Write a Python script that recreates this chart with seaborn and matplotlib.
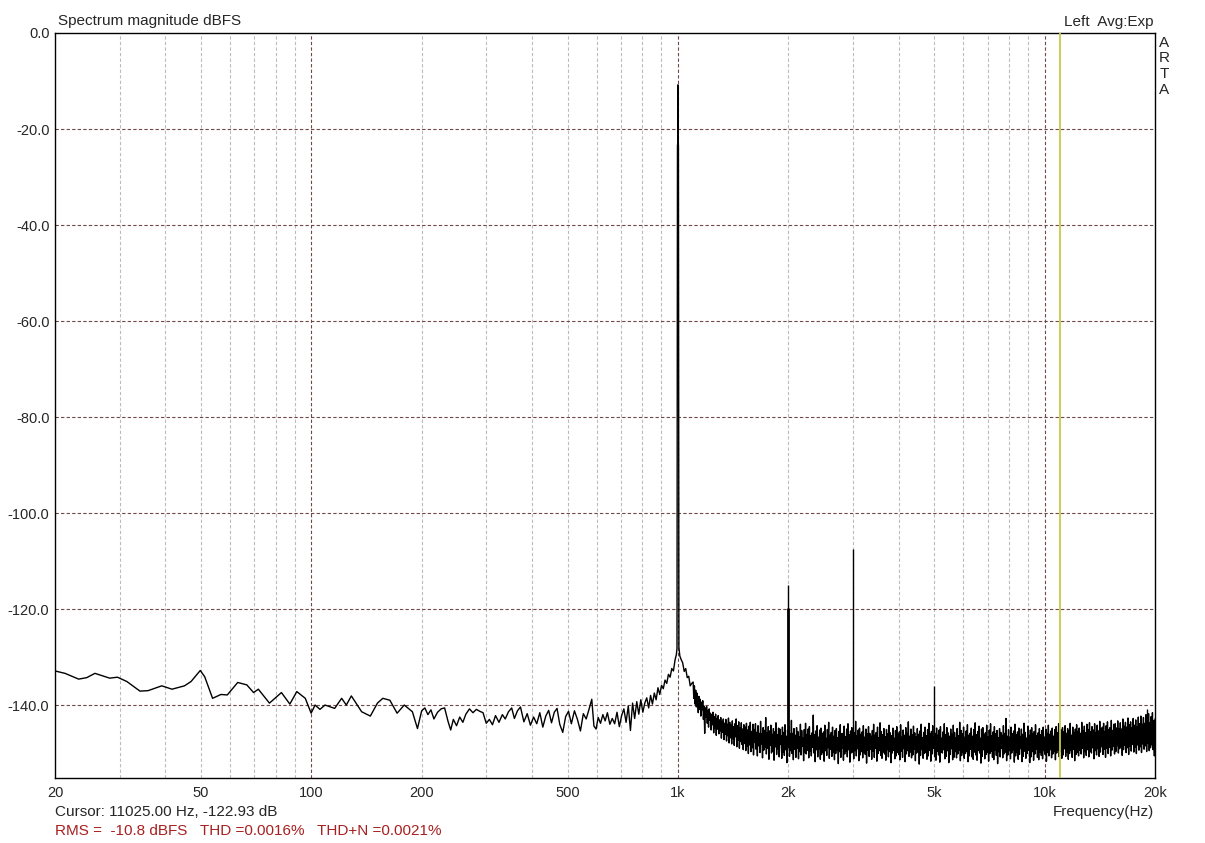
import numpy as np
import pandas as pd
import matplotlib
matplotlib.use("Agg")
import matplotlib.pyplot as plt
import seaborn as sns

sns.set_style("white")
plt.rcParams['font.family'] = ['Liberation Sans', 'DejaVu Sans']

# smooth low-frequency part of the spectrum (Hz, dBFS)
low_freq = [20, 21.3, 23.2, 24.4, 25.7, 28.2, 29.6, 31.4, 34.1, 35.9, 39.1, 41.7, 45.1, 47.0,
            49.8, 51.2, 53.8, 56.7, 59.0, 63.0, 66.7, 69.6, 71.7, 76.9, 82.9, 87.4, 91.3, 96.3,
            99.9, 102.4, 105.6, 109.0, 115.8, 121, 124.6, 128.6, 137.2, 144.9, 151.5, 156.7,
            163.8, 171.4, 179.3, 188.7, 194.8]
low_db = [-132.9, -133.4, -134.6, -134.3, -133.4, -134.4, -134.2, -135.1, -137.1, -137.0, -136.0,
          -136.7, -136.0, -135.1, -132.8, -134.1, -138.6, -137.8, -137.9, -135.3, -135.8, -137.4,
          -136.7, -139.6, -137.4, -139.8, -137.2, -138.6, -141.7, -140.0, -140.9, -140.0, -140.7,
          -138.6, -140.0, -138.1, -141.4, -142.3, -139.6, -138.6, -139.0, -141.7, -140.0, -141.4,
          -144.9]

# 200 Hz .. 1.1 kHz including the 1 kHz fundamental
mid_freq = [200, 204, 208, 212, 216, 221, 226, 231, 236, 240, 244, 249, 254, 259, 264, 270, 276,
            282, 288, 294, 300, 306, 312, 318, 325, 332, 338, 345, 352, 358, 365, 372, 380, 388,
            396, 404, 412, 420, 428, 436, 444, 452, 460, 468, 476, 485, 494, 503, 512, 522, 532,
            542, 552, 562, 572, 582, 590, 598, 606, 615, 624, 633, 642, 652, 662, 672, 682, 692,
            702, 712, 722, 732, 742, 752, 762, 772, 782, 792, 802, 812, 822, 832, 842, 852, 862,
            872, 882, 892, 902, 912, 922, 932, 942, 952, 962, 972, 982, 990, 994, 997, 999, 1000,
            1001, 1003, 1006, 1012, 1020, 1030, 1040, 1050, 1060, 1070, 1080, 1090]
mid_db = [-141.2, -140.6, -142.0, -141.0, -142.9, -141.5, -140.8, -140.6, -143.4, -145.2, -143.0,
          -144.3, -142.5, -143.6, -141.9, -140.8, -141.6, -140.9, -141.3, -141.6, -143.8, -143.0,
          -144.1, -142.2, -143.6, -142.0, -142.9, -141.4, -140.6, -142.8, -141.2, -140.4, -143.5,
          -141.8, -144.2, -142.5, -143.9, -141.6, -144.6, -142.3, -141.1, -143.7, -141.5, -140.7,
          -144.0, -145.7, -142.4, -141.3, -143.9, -141.2, -143.0, -145.4, -141.8, -142.9, -140.9,
          -138.8, -144.4, -145.0, -142.6, -143.8, -142.0, -143.3, -141.6, -144.0, -142.8, -143.9,
          -141.5, -144.5, -142.2, -140.8, -143.6, -140.2, -145.3, -139.6, -142.8, -139.3, -141.9,
          -138.9, -141.5, -139.6, -138.5, -140.6, -138.0, -139.8, -137.5, -138.9, -136.4, -137.8,
          -135.9, -136.6, -134.8, -135.5, -133.6, -134.2, -132.4, -132.9, -130.6, -129.5, -128.2,
          -23.3, -23.3, -10.8, -23.3, -23.3, -128.0, -129.8, -130.5, -131.2, -133.0, -132.4,
          -134.3, -134.0, -136.0, -135.5]

# dense FFT noise floor, 1.1 kHz .. 20 kHz, samples equally spaced on the log axis
dense_start, dense_stop = 1100, 20000
dense_db = [
    -135.2, -138.6, -136.0, -139.8, -136.9, -140.4, -137.5, -139.0, -141.6, -138.2, -140.9, -138.8, -142.3, -139.4, -141.0, -139.1, -143.0, -140.2, -145.9, -140.6,
    -142.5, -140.3, -143.8, -141.1, -144.6, -140.8, -143.2, -141.7, -145.2, -142.0, -144.1, -141.5, -145.8, -142.4, -144.9, -141.9, -146.3, -142.8, -145.0, -142.2,
    -146.0, -143.1, -145.4, -142.6, -146.9, -143.4, -145.7, -142.9, -147.2, -143.8, -146.1, -143.0, -147.5, -144.0, -146.4, -142.7, -147.9, -143.6, -146.8, -144.2,
    -148.1, -143.3, -147.0, -144.5, -148.4, -143.9, -146.6, -142.9, -148.7, -144.3, -147.3, -143.5, -149.0, -144.8, -147.6, -143.7, -148.2, -145.0, -149.3, -144.1,
    -148.0, -144.6, -149.5, -143.8, -148.6, -145.2, -150.1, -144.4, -148.3, -143.6, -149.7, -145.5, -148.9, -144.0, -150.4, -145.1, -147.8, -143.9, -149.2, -145.7,
    -150.6, -144.3, -148.5, -145.9, -149.9, -143.4, -148.1, -146.0, -151.0, -144.7, -149.4, -145.3, -148.8, -142.6, -150.2, -145.8, -149.0, -144.5, -151.3, -145.4,
    -148.4, -144.2, -150.0, -146.1, -149.6, -144.9, -151.5, -145.6, -148.7, -143.7, -150.3, -146.2, -149.1, -144.8, -150.8, -145.0, -148.2, -146.4, -151.1, -144.6,
    -149.8, -145.7, -150.5, -144.1, -149.3, -146.5, -152.0, -145.2, -148.9, -144.4, -150.7, -146.0, -149.5, -143.2, -150.1, -145.9, -151.4, -144.9, -149.2, -146.3,
    -150.9, -144.7, -149.0, -145.5, -151.2, -146.6, -149.7, -144.0, -150.4, -145.3, -148.6, -146.8, -151.6, -145.1, -149.9, -143.8, -150.2, -146.1, -149.4, -145.0,
    -151.0, -144.5, -149.6, -146.4, -150.6, -145.8, -148.8, -142.1, -150.0, -146.2, -151.8, -145.4, -149.3, -144.3, -150.8, -146.7, -149.1, -145.2, -151.3, -144.8,
    -150.3, -146.0, -149.8, -145.6, -151.7, -144.2, -149.5, -146.9, -150.5, -145.1, -148.9, -143.6, -151.1, -146.3, -149.2, -145.7, -150.7, -144.6, -149.9, -146.5,
    -151.4, -145.3, -150.1, -144.9, -149.4, -146.8, -152.2, -145.5, -149.7, -144.1, -150.9, -146.0, -149.0, -145.9, -151.5, -144.4, -150.2, -146.6, -149.6, -145.0,
    -150.8, -143.9, -149.3, -146.2, -151.9, -145.4, -150.0, -144.7, -149.8, -146.9, -151.2, -145.8, -149.5, -143.4, -150.6, -146.4, -149.1, -145.2, -151.6, -144.8,
    -150.4, -146.1, -149.7, -145.6, -151.0, -144.3, -149.9, -146.7, -150.3, -145.0, -152.1, -146.0, -149.4, -144.5, -150.7, -145.9, -149.2, -146.5, -151.3, -145.3,
    -149.6, -144.0, -150.9, -146.3, -149.0, -145.7, -151.7, -144.6, -150.1, -146.8, -149.5, -143.7, -150.5, -145.5, -151.1, -146.2, -149.8, -144.9, -150.2, -146.6,
    -151.5, -145.1, -149.3, -146.0, -150.8, -144.2, -149.7, -145.8, -152.0, -146.4, -150.0, -144.8, -149.4, -146.9, -151.2, -145.3, -150.6, -144.5, -149.9, -146.1,
    -150.3, -145.6, -151.4, -144.1, -149.6, -146.7, -150.9, -145.2, -149.1, -146.3, -151.8, -144.7, -150.2, -145.9, -149.5, -143.5, -150.7, -146.5, -149.8, -145.0,
    -151.0, -146.2, -150.4, -144.4, -149.2, -145.8, -151.6, -146.6, -150.0, -144.9, -149.7, -146.1, -152.3, -145.4, -150.5, -144.0, -149.3, -146.8, -151.1, -145.7,
    -150.1, -144.6, -149.9, -146.4, -151.3, -145.1, -150.6, -143.8, -149.4, -146.0, -151.7, -145.5, -150.2, -144.3, -149.0, -146.7, -150.8, -145.9, -151.5, -144.8,
    -149.6, -146.3, -150.4, -145.2, -151.9, -144.5, -149.8, -146.9, -150.0, -145.6, -149.3, -143.9, -151.2, -146.2, -150.7, -144.7, -149.5, -145.8, -152.0, -146.5,
    -150.3, -145.0, -149.1, -146.1, -151.4, -144.2, -150.9, -145.7, -149.7, -146.8, -151.0, -144.9, -150.2, -146.4, -149.4, -143.6, -151.6, -145.3, -150.5, -146.0,
    -149.9, -144.6, -151.1, -146.7, -150.1, -145.4, -149.6, -144.1, -151.8, -146.3, -150.6, -145.9, -149.2, -144.8, -150.8, -146.5, -151.3, -145.1, -149.8, -143.7,
    -150.4, -146.2, -151.5, -145.5, -149.5, -144.4, -150.0, -146.9, -152.1, -145.0, -150.7, -144.7, -149.3, -146.1, -151.2, -145.8, -150.3, -144.2, -149.9, -146.6,
    -151.7, -145.2, -150.1, -143.9, -149.6, -146.4, -150.9, -145.6, -151.4, -144.5, -149.4, -146.0, -150.5, -145.3, -152.2, -146.8, -149.7, -144.9, -150.8, -145.7,
    -149.0, -146.3, -151.0, -144.3, -150.2, -145.9, -149.8, -142.8, -151.6, -146.5, -150.4, -145.1, -149.5, -146.7, -151.2, -144.6, -150.0, -146.0, -149.3, -145.4,
    -151.9, -144.0, -150.6, -146.2, -149.9, -145.6, -151.3, -144.8, -150.3, -146.6, -149.1, -145.0, -151.8, -146.1, -150.7, -143.8, -149.6, -145.7, -151.1, -146.9,
    -150.1, -144.4, -149.4, -146.3, -152.0, -145.2, -150.8, -144.7, -149.7, -146.0, -151.5, -145.5, -150.2, -144.1, -149.2, -146.4, -150.9, -145.8, -151.4, -144.9,
    -149.8, -146.2, -150.5, -145.3, -151.2, -144.6, -149.5, -146.7, -150.3, -145.0, -151.7, -145.9, -149.9, -144.2, -150.6, -146.1, -149.3, -145.4, -151.0, -144.8,
    -150.2, -146.5, -149.7, -145.1, -151.4, -144.5, -150.0, -145.8, -149.4, -143.9, -150.8, -146.0, -149.6, -145.2, -151.1, -144.7, -150.4, -145.6, -149.1, -144.3,
    -150.7, -145.9, -149.8, -144.9, -151.3, -145.4, -150.1, -143.8, -149.5, -146.3, -150.9, -144.6, -149.2, -145.7, -151.6, -145.0, -150.3, -144.1, -149.9, -145.5,
    -150.6, -144.8, -149.4, -145.9, -150.2, -143.6, -149.0, -145.3, -151.0, -144.4, -149.7, -145.8, -150.5, -144.0, -149.3, -145.1, -150.8, -143.7, -149.6, -145.6,
    -150.0, -144.5, -148.9, -145.2, -151.2, -143.9, -149.5, -145.7, -150.4, -144.2, -149.1, -145.4, -150.7, -143.4, -149.8, -145.0, -148.7, -144.6, -150.3, -143.8,
    -149.2, -145.5, -150.9, -144.3, -149.0, -143.5, -150.1, -145.1, -148.8, -144.7, -150.6, -143.2, -149.4, -145.3, -148.6, -144.0, -150.2, -143.9, -149.7, -144.8,
    -148.5, -143.3, -150.0, -144.9, -149.1, -143.7, -148.7, -145.0, -150.5, -142.9, -149.3, -144.4, -148.4, -143.6, -149.9, -144.6, -148.9, -142.7, -150.3, -144.1,
    -148.6, -143.5, -149.6, -144.7, -148.2, -142.8, -149.8, -144.2, -148.8, -143.1, -150.1, -144.5, -148.3, -142.5, -149.4, -143.9, -148.7, -142.3, -149.9, -144.0,
    -148.1, -142.6, -149.2, -143.8, -148.5, -142.0, -149.7, -143.4, -148.0, -141.8, -149.5, -143.7, -148.9, -142.4, -148.3, -141.6, -149.3, -143.2, -150.6, -142.9,
]

# harmonic spikes rising out of the noise floor
harm_freq = [2000, 3000, 5000, 19050]
harm_db = [-115.0, -107.5, -136.0, -140.8]
h2_second_bin_db = -119.8
noise_floor_db = -147.0

cursor_freq = 11025

xtick_pos = [20, 50, 100, 200, 500, 1000, 2000, 5000, 10000, 20000]
xtick_lab = ['20', '50', '100', '200', '500', '1k', '2k', '5k', '10k', '20k']
xminor_pos = [30, 40, 60, 70, 80, 90, 300, 400, 600, 700, 800, 900,
              3000, 4000, 6000, 7000, 8000, 9000]
ytick_pos = [0, -20, -40, -60, -80, -100, -120, -140]

dense_freq = np.geomspace(dense_start, dense_stop, len(dense_db))
df = pd.DataFrame({
    'freq': np.concatenate([low_freq, mid_freq, dense_freq]),
    'db': np.concatenate([low_db, mid_db, dense_db]),
})

W, H = 1205, 843
fig = plt.figure(figsize=(W / 100, H / 100), dpi=100)
ax = fig.add_axes([55 / W, 1 - 778 / H, 1100 / W, 745 / H])

dark = '#704848'
light = '#bcbcbc'
for f in xminor_pos + [50, 200, 500, 2000, 5000]:
    ax.axvline(f, color=light, lw=0.8, ls=(0, (3, 2)), zorder=0)
for f in [100, 1000, 10000]:
    ax.axvline(f, color=dark, lw=0.8, ls=(0, (3, 2)), zorder=0)
for v in ytick_pos[1:]:
    ax.axhline(v, color=dark, lw=0.8, ls=(0, (3, 2)), zorder=0)

sns.lineplot(data=df, x='freq', y='db', estimator=None, sort=False, color='black',
             lw=1.0, ax=ax, legend=False)
ax.vlines(harm_freq, noise_floor_db, harm_db, color='black', lw=1.0)
ax.vlines([harm_freq[0]], noise_floor_db, [h2_second_bin_db], color='black', lw=2.0)
ax.axvline(cursor_freq, color='#c8c848', lw=1.3, zorder=3)

ax.set_xscale('log')
ax.set_xlim(20, 20000)
ax.set_ylim(-155.2, 0)
ax.set_xticks(xtick_pos)
ax.set_xticklabels(xtick_lab)
ax.set_xticks(xminor_pos, minor=True)
ax.xaxis.set_minor_formatter(matplotlib.ticker.NullFormatter())
ax.tick_params(axis='x', which='both', direction='in', length=13.5, width=1, color='black',
               pad=5.5, labelsize=10.5)
ax.set_yticks(ytick_pos)
ax.set_yticklabels([f'{v:.1f}' for v in ytick_pos])
ax.set_yticks([v for v in range(-152, 0, 4) if v % 20 != 0], minor=True)
ax.tick_params(axis='y', which='major', length=0, pad=4, labelsize=10.5)
ax.tick_params(axis='y', which='minor', direction='in', length=8, width=1, color='black')
ax.set_xlabel('')
ax.set_ylabel('')
for s in ax.spines.values():
    s.set_color('black')
    s.set_linewidth(1.0)

fs = 11
fig.text(58 / W, 1 - 21 / H, 'Spectrum magnitude dBFS', fontsize=fs, va='center', ha='left')
fig.text(1154 / W, 1 - 22 / H, 'Left  Avg:Exp', fontsize=fs, va='center', ha='right')
for i, ch in enumerate('ARTA'):
    fig.text(1164 / W, 1 - (43 + i * 15.5) / H, ch, fontsize=fs, va='center', ha='center')
fig.text(55 / W, 1 - 812 / H, 'Cursor: 11025.00 Hz, -122.93 dB', fontsize=fs, va='center', ha='left')
fig.text(1154 / W, 1 - 812 / H, 'Frequency(Hz)', fontsize=fs, va='center', ha='right')
fig.text(55 / W, 1 - 831 / H, 'RMS =  -10.8 dBFS   THD =0.0016%   THD+N =0.0021%',
         fontsize=fs, va='center', ha='left', color='#a82020')

fig.savefig('out.png', dpi=100, facecolor='white')
